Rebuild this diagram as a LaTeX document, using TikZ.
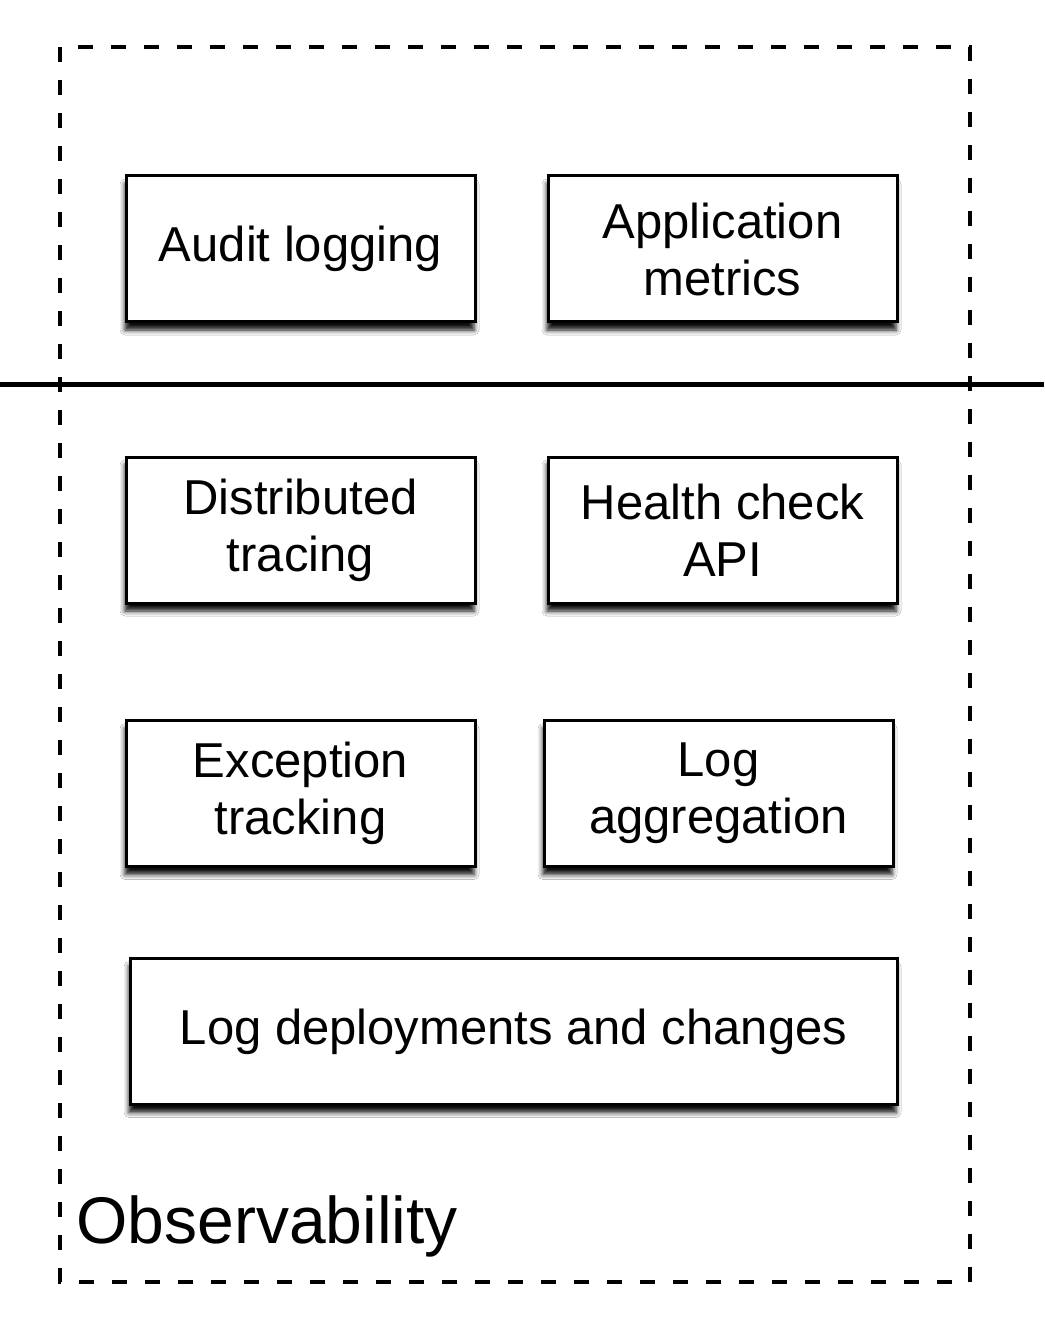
\documentclass[tikz,border=0pt]{standalone}
\usepackage{fontspec}
\setmainfont{Liberation Sans}
\usetikzlibrary{shadows,shadows.blur}
\begin{document}
\begin{tikzpicture}[x=0.5pt,y=-0.5pt,
  svcbox/.style={draw=black, line width=1.5pt, fill=white, align=center,
    minimum width=174.5pt, minimum height=73pt, inner sep=0pt,
    font=\fontsize{24.5pt}{28.5pt}\selectfont,
    blur shadow={shadow xshift=-0.5pt, shadow yshift=-4pt, shadow blur radius=2.5pt, shadow opacity=95}},
  groupframe/.style={draw=black, line width=1.7pt, dash pattern=on 7.5pt off 9pt},
  divider/.style={draw=black, line width=2.5pt}]
\useasboundingbox (0,0) rectangle (1044,1336);
\path[fill=white] (0,0) rectangle (1044,1336);
\draw[groupframe] (60,47) rectangle (970,1282);
\coordinate (dl) at (0,385);
\coordinate (dr) at (1044,385);
\draw[divider] (dl) -- (dr);
\node[svcbox] (audit) at (300.5,249) {Audit logging};
\node[svcbox] (appm) at (722.5,249) {Application\\metrics};
\node[svcbox] (dist) at (300.5,530) {Distributed\\tracing};
\node[svcbox] (health) at (722.5,530) {Health check\\API};
\node[svcbox] (exc) at (300.5,793.5) {Exception\\tracking};
\node[svcbox] (logagg) at (718.5,793.5) {Log\\aggregation};
\node[svcbox, minimum width=383.5pt] (logdep) at (513.5,1031.5) {Log deployments and changes};
\node[anchor=base west, inner sep=0pt, font=\fontsize{33pt}{38pt}\selectfont] (title) at (76,1243) {Observability};
\end{tikzpicture}
\end{document}
